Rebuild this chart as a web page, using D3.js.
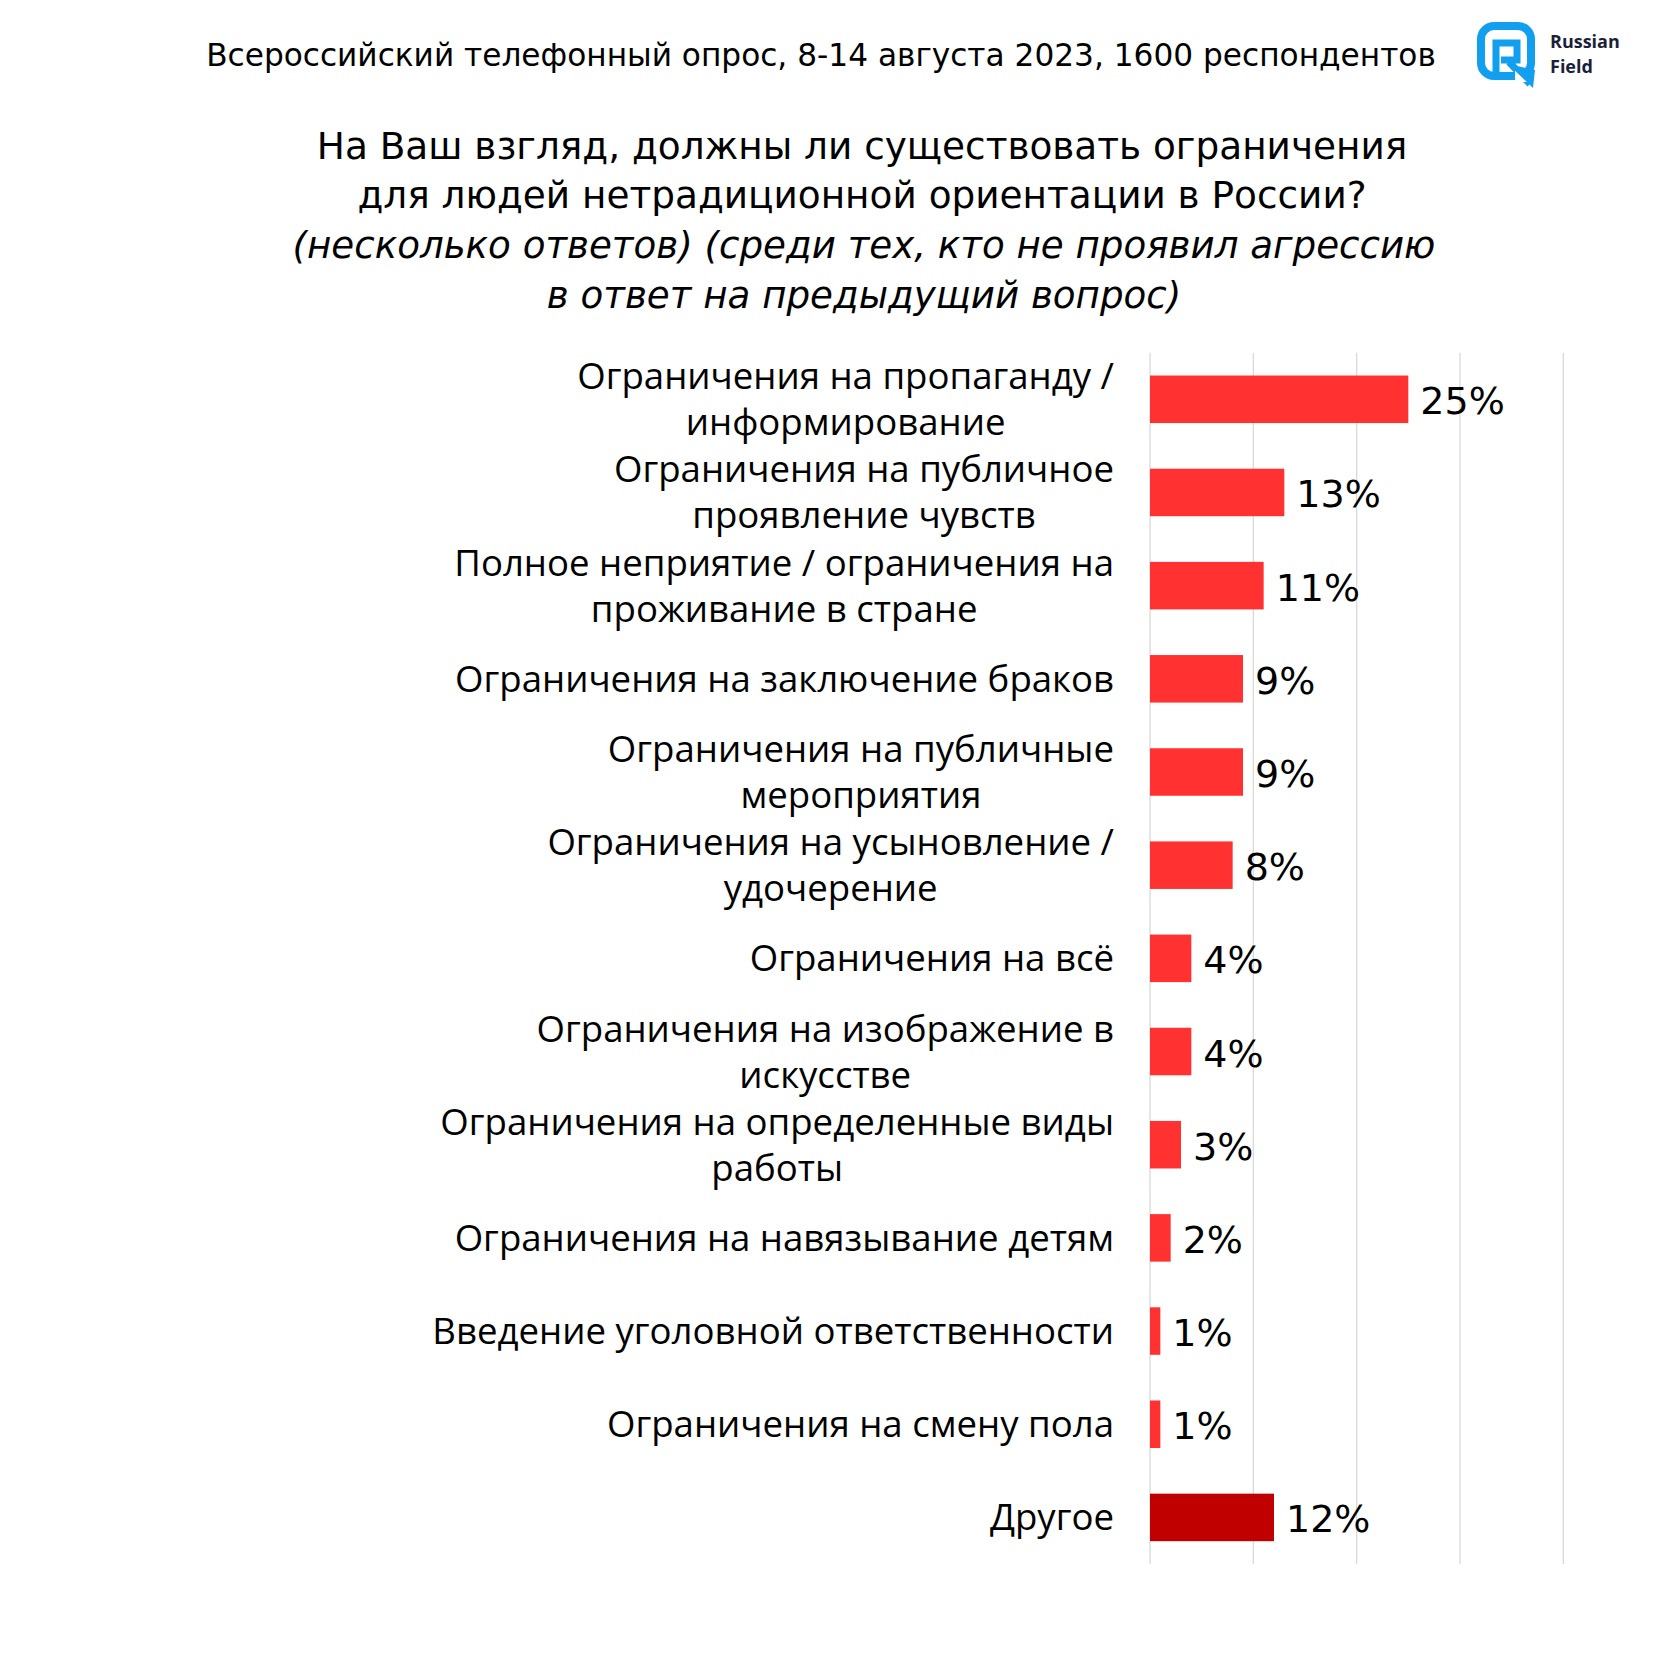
<!DOCTYPE html>
<html><head><meta charset="utf-8">
<script src="https://cdn.jsdelivr.net/npm/d3@7"></script>
<style>
html,body{margin:0;padding:0;background:#fff;}
svg{display:block;}
</style>
</head><body>
<svg id="chart" width="1680" height="1680"></svg>
<script>
const categories = [
  "Ограничения на пропаганду /\nинформирование",
  "Ограничения на публичное\nпроявление чувств",
  "Полное неприятие / ограничения на\nпроживание в стране",
  "Ограничения на заключение браков",
  "Ограничения на публичные\nмероприятия",
  "Ограничения на усыновление /\nудочерение",
  "Ограничения на всё",
  "Ограничения на изображение в\nискусстве",
  "Ограничения на определенные виды\nработы",
  "Ограничения на навязывание детям",
  "Введение уголовной ответственности",
  "Ограничения на смену пола",
  "Другое"
];
const values = [25, 13, 11, 9, 9, 8, 4, 4, 3, 2, 1, 1, 12];
const valueLabels = ["25%","13%","11%","9%","9%","8%","4%","4%","3%","2%","1%","1%","12%"];
const gridTicks = [0, 10, 20, 30, 40];
const headerText = "Всероссийский телефонный опрос, 8-14 августа 2023, 1600 респондентов";
const titleLines = ["На Ваш взгляд, должны ли существовать ограничения", "для людей нетрадиционной ориентации в России?"];
const subtitleLines = ["(несколько ответов) (среди тех, кто не проявил агрессию", "в ответ на предыдущий вопрос)"];

const svg = d3.select("#chart");
const data = categories.map((c, i) => ({cat: c, v: values[i], lab: valueLabels[i], other: i === categories.length - 1}));

const x = d3.scaleLinear().domain([0, 40]).range([1150, 1563.3]);
const y = d3.scaleBand().domain(data.map(d => d.cat)).range([352.7, 1564]).paddingInner(0.49).paddingOuter(0.245);

// header
svg.append("text").attr("x", 821).attr("y", 66).attr("text-anchor", "middle")
  .attr("font-family", "DejaVu Sans").attr("font-size", 31.2).attr("fill", "#000").text(headerText);

// logo
const logo = svg.append("g");
logo.append("rect").attr("x", 1481).attr("y", 26).attr("width", 50).attr("height", 50).attr("rx", 13)
  .attr("fill", "none").attr("stroke", "#139ff0").attr("stroke-width", 8);
logo.append("path").attr("d", "M1496,73 V43 H1517 V60 H1501 M1509,62 L1530,84")
  .attr("fill", "none").attr("stroke", "#139ff0").attr("stroke-width", 7);
logo.append("rect").attr("x", 1515).attr("y", 70).attr("width", 20).attr("height", 12).attr("fill", "#fff");
logo.append("path").attr("d", "M1508,64 L1533,88 L1535,70 Z").attr("fill", "#139ff0");
logo.append("text").attr("x", 1550).attr("y", 48).attr("font-family", "Open Sans").attr("font-weight", 700)
  .attr("font-size", 18).attr("fill", "#1b1f3a").text("Russian");
logo.append("text").attr("x", 1550).attr("y", 73).attr("font-family", "Open Sans").attr("font-weight", 700)
  .attr("font-size", 18).attr("fill", "#1b1f3a").text("Field");

// title
titleLines.forEach((t, i) => {
  svg.append("text").attr("x", 862).attr("y", 159 + i * 49).attr("text-anchor", "middle")
    .attr("font-family", "DejaVu Sans").attr("font-size", 37.4).attr("fill", "#000").text(t);
});
subtitleLines.forEach((t, i) => {
  svg.append("text").attr("x", 864).attr("y", 258 + i * 50).attr("text-anchor", "middle")
    .attr("font-family", "DejaVu Sans").attr("font-style", "italic").attr("font-size", 37.2).attr("fill", "#000").text(t);
});

// grid
svg.append("g").selectAll("line").data(gridTicks).join("line")
  .attr("x1", d => x(d)).attr("x2", d => x(d)).attr("y1", 352.7).attr("y2", 1564)
  .attr("stroke", "#d9d9d9").attr("stroke-width", 1.3);

// bars
svg.append("g").selectAll("rect").data(data).join("rect")
  .attr("x", x(0)).attr("y", d => y(d.cat)).attr("width", d => x(d.v) - x(0)).attr("height", y.bandwidth())
  .attr("fill", d => d.other ? "#c00000" : "#ff3131");

// value labels
svg.append("g").selectAll("text").data(data).join("text")
  .attr("x", d => x(d.v) + 12).attr("y", d => y(d.cat) + y.bandwidth() / 2 + 15)
  .attr("font-family", "DejaVu Sans").attr("font-size", 38).attr("fill", "#000").text(d => d.lab);

// category labels
const labelRight = 1114, lineH = 46;
const lg = svg.append("g");
data.forEach(d => {
  const lines = d.cat.split("\n");
  const cy = y(d.cat) + y.bandwidth() / 2;
  const g = lg.append("g");
  const ts = lines.map((t, i) => g.append("text")
    .attr("y", cy + (i - (lines.length - 1) / 2) * lineH + 13)
    .attr("font-family", "Open Sans").attr("font-size", 36.6).attr("fill", "#000")
    .attr("text-anchor", "middle").text(t));
  const maxW = d3.max(ts, t => t.node().getComputedTextLength());
  ts.forEach(t => t.attr("x", labelRight - maxW / 2));
});
</script>
</body></html>
